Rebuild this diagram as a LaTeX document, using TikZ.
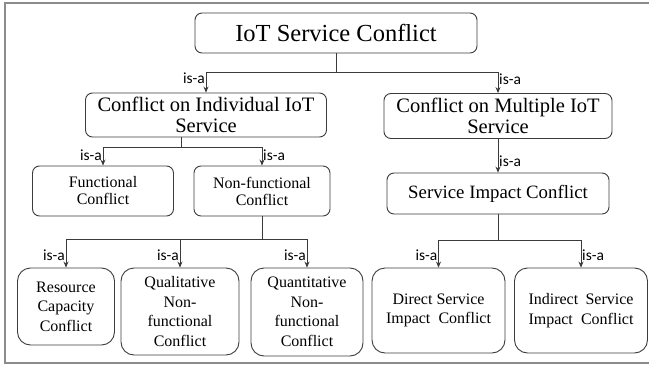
\documentclass[tikz,border=0pt]{standalone}
\usepackage{fontspec}
\setmainfont{Liberation Serif}
\newfontfamily\califont{Carlito}
\usetikzlibrary{arrows.meta,calc}
\definecolor{boxc}{HTML}{3C3C3C}
\definecolor{linec}{HTML}{3A3A3A}
\definecolor{framec}{HTML}{8C8C8C}
\begin{document}
\begin{tikzpicture}[x=1pt,y=-1pt,
  box/.style={draw=boxc, line width=0.9pt, rounded corners=7pt, align=center, inner sep=0pt},
  bbox/.style={box, rounded corners=13pt, font=\fontsize{16}{19.5}\selectfont},
  midf/.style={font=\fontsize{16}{17}\selectfont},
  bigf/.style={font=\fontsize{20.5}{21}\selectfont},
  conn/.style={draw=linec, line width=0.8pt},
  arr/.style={conn, -{Stealth[length=6pt,width=5pt]}},
  lab/.style={font=\califont\fontsize{15.5}{16}\selectfont, inner sep=1pt}]
\useasboundingbox (0,0) rectangle (649,367);
\draw[framec, line width=1.4pt] (5,3) rectangle (690,363);

% nodes
\node[box, minimum width=282pt, minimum height=40pt, font=\fontsize{24.5}{26}\selectfont] (root) at (336,33) {IoT Service Conflict};
\node[box, bigf, minimum width=241pt, minimum height=44pt] (ind) at (206,115) {Conflict on Individual IoT\\Service};
\node[box, bigf, minimum width=228pt, minimum height=45pt] (mul) at (498,116) {Conflict on Multiple IoT\\Service};
\node[box, midf, minimum width=141pt, minimum height=50pt] (func) at (103,191) {Functional\\Conflict};
\node[box, midf, minimum width=136pt, minimum height=50pt] (nonf) at (262,191) {Non-functional\\Conflict};
\node[box, font=\fontsize{18.8}{20}\selectfont, minimum width=222pt, minimum height=41pt] (sic) at (498,193.5) {Service Impact Conflict};
\node[bbox, minimum width=97pt, minimum height=77pt] (res) at (66,306.5) {Resource\\Capacity\\Conflict};
\node[bbox, minimum width=118pt, minimum height=87pt] (qual) at (180,311.5) {Qualitative\\Non-\\functional\\Conflict};
\node[bbox, minimum width=112pt, minimum height=88pt] (quant) at (307,312) {Quantitative\\Non-\\functional\\Conflict};
\node[bbox, minimum width=133pt, minimum height=85pt] (dir) at (438.5,310.5) {Direct Service\\\makebox[105pt][s]{Impact Conflict}};
\node[bbox, minimum width=133pt, minimum height=85pt] (indir) at (581,310.5) {\makebox[105pt][s]{Indirect Service}\\\makebox[105pt][s]{Impact Conflict}};

% level 1
\coordinate (j0) at (336,72);
\draw[conn] (root.south) -- (j0);
\draw[arr] (j0) -| (ind.north);
\draw[arr] (j0) -| (mul.north);
\node[lab, anchor=east] (l1) at ($(ind.north)+(0,-14)$) {is-a};
\node[lab, anchor=west] (l2) at ($(mul.north)+(0,-14)$) {is-a};

% level 2 (individual)
\coordinate (j1) at (181,147);
\draw[conn] (j1 |- ind.south) -- (j1);
\draw[arr] (j1) -| (func.north);
\draw[arr] (j1) -| (nonf.north);
\node[lab, anchor=east] (l3) at ($(func.north)+(0,-10)$) {is-a};
\node[lab, anchor=west] (l4) at ($(nonf.north)+(0,-10)$) {is-a};

% level 3 (non-functional)
\coordinate (j2) at (262,239);
\draw[conn] (nonf.south) -- (j2);
\draw[arr] (j2) -| (res.north);
\draw[arr] (j2) -| (qual.north);
\draw[arr] (j2) -| (quant.north);
\node[lab, anchor=east] (l5) at ($(res.north)+(0,-12)$) {is-a};
\node[lab, anchor=east] (l6) at ($(qual.north)+(0,-12)$) {is-a};
\node[lab, anchor=east] (l7) at ($(quant.north)+(0,-12)$) {is-a};

% multiple branch
\draw[arr] (mul.south) -- (sic.north);
\node[lab, anchor=west] (l8) at ($(sic.north)+(0,-11)$) {is-a};
\coordinate (j3) at (498,240);
\draw[conn] (sic.south) -- (j3);
\draw[arr] (j3) -| (dir.north);
\draw[arr] (j3) -| (indir.north);
\node[lab, anchor=east] (l9) at ($(dir.north)+(0,-12)$) {is-a};
\node[lab, anchor=west] (l10) at ($(indir.north)+(0,-12)$) {is-a};
\end{tikzpicture}
\end{document}
